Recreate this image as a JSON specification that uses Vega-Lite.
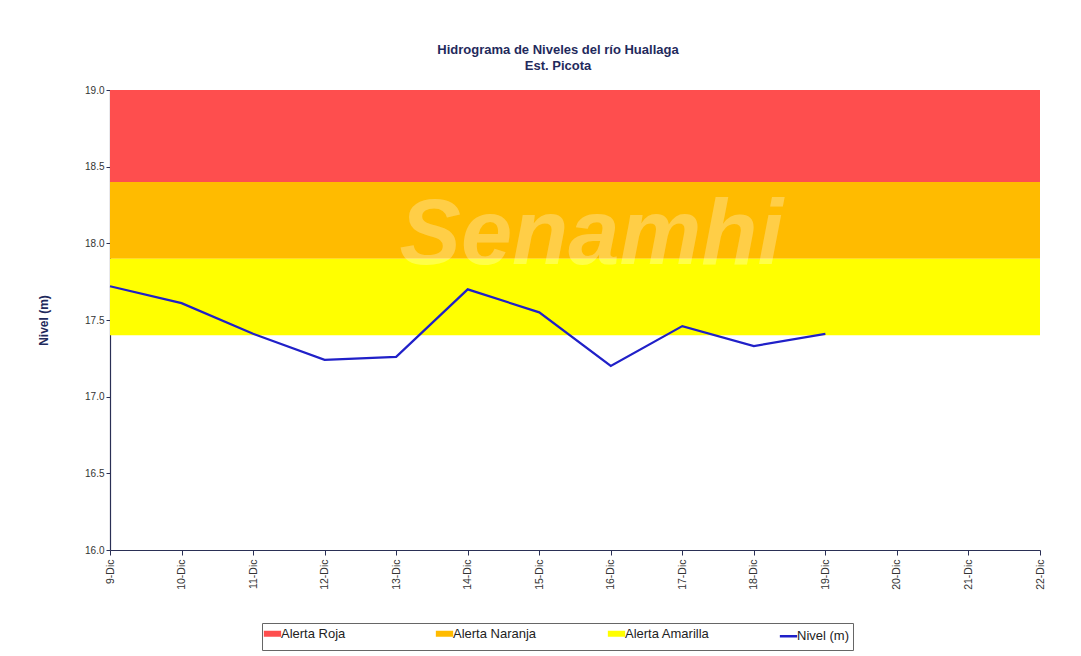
{
  "$schema": "https://vega.github.io/schema/vega-lite/v6.json",
  "width": 930,
  "height": 460,
  "autosize": {"type": "none"},
  "padding": {"left": 110, "top": 90, "right": 41, "bottom": 106},
  "background": "white",
  "title": {
    "text": ["Hidrograma de Niveles del río Huallaga", "Est. Picota"],
    "font": "Liberation Sans",
    "fontSize": 13,
    "fontWeight": "bold",
    "color": "#1f2a5c",
    "anchor": "middle",
    "dx": -17,
    "offset": 12,
    "lineHeight": 16
  },
  "config": {
    "view": {"stroke": null},
    "font": "Liberation Sans",
    "axis": {"labelFont": "Liberation Sans", "titleFont": "Liberation Sans", "labelColor": "#333333", "domainColor": "#2a2f55", "tickColor": "#2a2f55", "grid": false}
  },
  "datasets": {
    "bands": [
      {"alerta": "Alerta Roja", "desde": 18.4, "hasta": 19.0},
      {"alerta": "Alerta Naranja", "desde": 17.9, "hasta": 18.4},
      {"alerta": "Alerta Amarilla", "desde": 17.4, "hasta": 17.9}
    ],
    "nivel": [
      {"fecha": "9-Dic", "nivel": 17.72, "serie": "Nivel (m)"},
      {"fecha": "10-Dic", "nivel": 17.61, "serie": "Nivel (m)"},
      {"fecha": "11-Dic", "nivel": 17.41, "serie": "Nivel (m)"},
      {"fecha": "12-Dic", "nivel": 17.24, "serie": "Nivel (m)"},
      {"fecha": "13-Dic", "nivel": 17.26, "serie": "Nivel (m)"},
      {"fecha": "14-Dic", "nivel": 17.70, "serie": "Nivel (m)"},
      {"fecha": "15-Dic", "nivel": 17.55, "serie": "Nivel (m)"},
      {"fecha": "16-Dic", "nivel": 17.20, "serie": "Nivel (m)"},
      {"fecha": "17-Dic", "nivel": 17.46, "serie": "Nivel (m)"},
      {"fecha": "18-Dic", "nivel": 17.33, "serie": "Nivel (m)"},
      {"fecha": "19-Dic", "nivel": 17.41, "serie": "Nivel (m)"}
    ],
    "marca": [
      {"fecha": "15-Dic", "nivel": 18.05, "texto": "Senamhi"}
    ]
  },
  "layer": [
    {
      "data": {"name": "bands"},
      "mark": {"type": "rect"},
      "encoding": {
        "y": {"field": "desde", "type": "quantitative"},
        "y2": {"field": "hasta"},
        "color": {"field": "alerta", "type": "nominal"}
      }
    },
    {
      "data": {"name": "marca"},
      "mark": {"type": "text", "font": "Liberation Sans", "fontSize": 92, "fontWeight": "bold", "fontStyle": "italic", "color": "white", "opacity": 0.28, "align": "center", "baseline": "middle", "dx": 52},
      "encoding": {
        "x": {"field": "fecha", "type": "ordinal"},
        "y": {"field": "nivel", "type": "quantitative"},
        "text": {"field": "texto"}
      }
    },
    {
      "data": {"name": "nivel"},
      "mark": {"type": "line", "strokeWidth": 2.2},
      "encoding": {
        "x": {
          "field": "fecha",
          "type": "ordinal",
          "sort": null,
          "scale": {"type": "point", "padding": 0, "domain": ["9-Dic", "10-Dic", "11-Dic", "12-Dic", "13-Dic", "14-Dic", "15-Dic", "16-Dic", "17-Dic", "18-Dic", "19-Dic", "20-Dic", "21-Dic", "22-Dic"]},
          "axis": {"title": null, "labelAngle": 270, "labelAlign": "right", "labelBaseline": "middle", "labelFontSize": 10.5, "tickSize": 5, "labelPadding": 4, "domainWidth": 1.2}
        },
        "y": {
          "field": "nivel",
          "type": "quantitative",
          "scale": {"domain": [16, 19], "nice": false, "zero": false},
          "axis": {"title": "Nivel (m)", "titleFontSize": 12, "titleFontWeight": "bold", "titleColor": "#1f2a5c", "titlePadding": 34, "values": [16, 16.5, 17, 17.5, 18, 18.5, 19], "format": ".1f", "labelFontSize": 10, "tickSize": 4, "domainWidth": 1.2}
        },
        "color": {"field": "serie", "type": "nominal"}
      }
    }
  ],
  "resolve": {"scale": {"color": "shared"}},
  "encoding": {
    "color": {
      "scale": {"domain": ["Alerta Roja", "Alerta Naranja", "Alerta Amarilla", "Nivel (m)"], "range": ["#fe4e4e", "#ffbb00", "#ffff00", "#2020c8"]},
      "legend": {
        "title": null,
        "orient": "none",
        "legendX": 152,
        "legendY": 533,
        "direction": "horizontal",
        "gridAlign": "all",
        "symbolType": "stroke",
        "symbolSize": 300,
        "labelFontSize": 13,
        "labelBaseline": "middle",
        "labelColor": "#222222",
        "labelOffset": 2,
        "columnPadding": 57,
        "strokeColor": "#666666",
        "padding": 4,
        "encode": {
          "symbols": {"update": {"strokeWidth": {"signal": "datum.value === 'Nivel (m)' ? 2.5 : 6"}, "opacity": {"value": 1}}}
        }
      }
    }
  }
}
